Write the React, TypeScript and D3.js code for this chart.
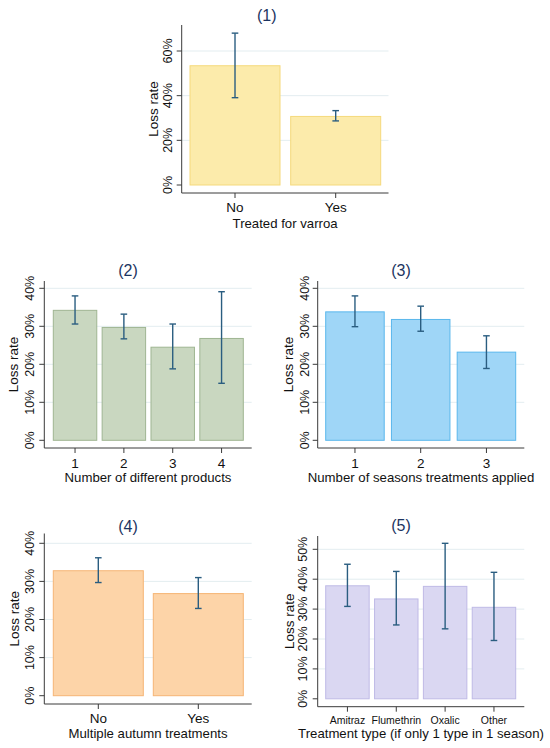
import React from "react";
import * as d3 from "d3";

// (1) Treated for varroa
const varroaCats = ["No", "Yes"];
const varroaLoss = [0.534, 0.307];
const varroaLo = [0.391, 0.287];
const varroaHi = [0.68, 0.333];
const varroaTicks = [0, 0.2, 0.4, 0.6];

// (2) Number of different products
const productCats = ["1", "2", "3", "4"];
const productLoss = [0.342, 0.297, 0.245, 0.268];
const productLo = [0.306, 0.267, 0.188, 0.15];
const productHi = [0.38, 0.332, 0.306, 0.391];
const productTicks = [0, 0.1, 0.2, 0.3, 0.4];

// (3) Number of seasons treatments applied
const seasonCats = ["1", "2", "3"];
const seasonLoss = [0.338, 0.318, 0.232];
const seasonLo = [0.299, 0.287, 0.189];
const seasonHi = [0.38, 0.353, 0.275];
const seasonTicks = [0, 0.1, 0.2, 0.3, 0.4];

// (4) Multiple autumn treatments
const autumnCats = ["No", "Yes"];
const autumnLoss = [0.328, 0.268];
const autumnLo = [0.297, 0.229];
const autumnHi = [0.362, 0.31];
const autumnTicks = [0, 0.1, 0.2, 0.3, 0.4];

// (5) Treatment type
const typeCats = ["Amitraz", "Flumethrin", "Oxalic", "Other"];
const typeLoss = [0.378, 0.334, 0.376, 0.306];
const typeLo = [0.309, 0.247, 0.234, 0.195];
const typeHi = [0.45, 0.426, 0.52, 0.423];
const typeTicks = [0, 0.1, 0.2, 0.3, 0.4, 0.5];

const FONT = "'Liberation Sans', Arial, Helvetica, sans-serif";
const ERR = "#2a5d80";
const AXIS = "#3a3a3a";
const GRID = "#e3edf0";

type PanelProps = {
  title: string;
  xTitle: string;
  cats: string[];
  loss: number[];
  lo: number[];
  hi: number[];
  ticks: number[];
  fill: string;
  stroke: string;
  axisX: number;
  band: [number, number];
  pad: number;
  rightX: number;
  y0: number;
  yTopPx: number;
  axisTop: number;
  xAxisY: number;
  yLabelX: number;
  yTitleX: number;
  titleX: number;
  titleY: number;
  xTickY: number;
  xTitleY: number;
  xTickSize?: number;
};

function Panel(p: PanelProps) {
  const topVal = p.ticks[p.ticks.length - 1];
  const y = d3.scaleLinear().domain([0, topVal]).range([p.y0, p.yTopPx]);
  const x = d3.scaleBand<string>().domain(p.cats).range(p.band).paddingInner(p.pad).paddingOuter(0);
  const fmt = d3.format(".0%");
  const cap = 3.3;
  const midY = (p.axisTop + p.xAxisY) / 2;

  return (
    <g fontFamily={FONT}>
      <text x={p.titleX} y={p.titleY} textAnchor="middle" dominantBaseline="central" fontSize={16} fill="#1c3461">
        {p.title}
      </text>
      {p.ticks.filter(t => t > 0).map(t => (
        <line key={"g" + t} x1={p.axisX} x2={p.rightX} y1={y(t)} y2={y(t)} stroke={GRID} strokeWidth={1} />
      ))}
      {p.cats.map((c, i) => (
        <rect
          key={"b" + c}
          x={x(c)}
          y={y(p.loss[i])}
          width={x.bandwidth()}
          height={y(0) - y(p.loss[i])}
          fill={p.fill}
          stroke={p.stroke}
          strokeWidth={1}
        />
      ))}
      {p.cats.map((c, i) => {
        const cx = (x(c) ?? 0) + x.bandwidth() / 2;
        return (
          <g key={"e" + c} stroke={ERR} strokeWidth={1.4}>
            <line x1={cx} x2={cx} y1={y(p.lo[i])} y2={y(p.hi[i])} />
            <line x1={cx - cap} x2={cx + cap} y1={y(p.lo[i])} y2={y(p.lo[i])} />
            <line x1={cx - cap} x2={cx + cap} y1={y(p.hi[i])} y2={y(p.hi[i])} />
          </g>
        );
      })}
      <line x1={p.axisX} x2={p.axisX} y1={p.axisTop} y2={p.xAxisY} stroke={AXIS} strokeWidth={1} />
      <line x1={p.axisX} x2={p.rightX} y1={p.xAxisY} y2={p.xAxisY} stroke={AXIS} strokeWidth={1} />
      {p.ticks.map(t => (
        <g key={"t" + t}>
          <line x1={p.axisX - 5} x2={p.axisX} y1={y(t)} y2={y(t)} stroke={AXIS} strokeWidth={1} />
          <text
            x={p.yLabelX}
            y={y(t)}
            transform={`rotate(-90 ${p.yLabelX} ${y(t)})`}
            textAnchor="middle"
            dominantBaseline="central"
            fontSize={12.5}
            fill="#111"
          >
            {fmt(t)}
          </text>
        </g>
      ))}
      <text
        x={p.yTitleX}
        y={midY}
        transform={`rotate(-90 ${p.yTitleX} ${midY})`}
        textAnchor="middle"
        dominantBaseline="central"
        fontSize={13.5}
        fill="#111"
      >
        Loss rate
      </text>
      {p.cats.map(c => {
        const cx = (x(c) ?? 0) + x.bandwidth() / 2;
        return (
          <g key={"x" + c}>
            <line x1={cx} x2={cx} y1={p.xAxisY} y2={p.xAxisY + 5} stroke={AXIS} strokeWidth={1} />
            <text x={cx} y={p.xTickY} textAnchor="middle" dominantBaseline="central" fontSize={p.xTickSize ?? 13.5} fill="#111">
              {c}
            </text>
          </g>
        );
      })}
      <text x={(p.axisX + p.rightX) / 2} y={p.xTitleY} textAnchor="middle" dominantBaseline="central" fontSize={13.2} fill="#111">
        {p.xTitle}
      </text>
    </g>
  );
}

export default function App() {
  return (
    <div style={{ position: "absolute", left: 0, top: 0 }}>
      <svg width={550} height={748} style={{ display: "block", background: "#fff" }}>
        <Panel
          title="(1)" xTitle="Treated for varroa"
          cats={varroaCats} loss={varroaLoss} lo={varroaLo} hi={varroaHi} ticks={varroaTicks}
          fill="#fcebab" stroke="#f5d97c"
          axisX={181.7} band={[190, 380.7]} pad={0.106} rightX={388.5}
          y0={185} yTopPx={51} axisTop={25} xAxisY={193}
          yLabelX={167.7} yTitleX={153.3} titleX={266.7} titleY={15}
          xTickY={207.7} xTitleY={223}
        />
        <Panel
          title="(2)" xTitle="Number of different products"
          cats={productCats} loss={productLoss} lo={productLo} hi={productHi} ticks={productTicks}
          fill="#c9d7c0" stroke="#9fb592"
          axisX={44.3} band={[53.3, 243.3]} pad={0.11} rightX={251.7}
          y0={440.3} yTopPx={288.3} axisTop={281} xAxisY={448}
          yLabelX={30} yTitleX={13.5} titleX={128} titleY={270}
          xTickY={463} xTitleY={477.5}
        />
        <Panel
          title="(3)" xTitle="Number of seasons treatments applied"
          cats={seasonCats} loss={seasonLoss} lo={seasonLo} hi={seasonHi} ticks={seasonTicks}
          fill="#9fd6f7" stroke="#5ab7ec"
          axisX={317.7} band={[325.7, 515.7]} pad={0.11} rightX={524.3}
          y0={440.3} yTopPx={288.3} axisTop={281} xAxisY={448}
          yLabelX={305} yTitleX={288.5} titleX={401} titleY={270}
          xTickY={463} xTitleY={477.5}
        />
        <Panel
          title="(4)" xTitle="Multiple autumn treatments"
          cats={autumnCats} loss={autumnLoss} lo={autumnLo} hi={autumnHi} ticks={autumnTicks}
          fill="#fdd4a8" stroke="#f6b575"
          axisX={44.3} band={[53.3, 243.3]} pad={0.1} rightX={251.7}
          y0={695.7} yTopPx={543.3} axisTop={533.5} xAxisY={704}
          yLabelX={30} yTitleX={14} titleX={128} titleY={526}
          xTickY={718.3} xTitleY={733.3}
        />
        <Panel
          title="(5)" xTitle="Treatment type (if only 1 type in 1 season)"
          cats={typeCats} loss={typeLoss} lo={typeLo} hi={typeHi} ticks={typeTicks}
          fill="#dad7f2" stroke="#bfbae6"
          axisX={317.7} band={[325.7, 515.7]} pad={0.11} rightX={524.3}
          y0={698.8} yTopPx={549.3} axisTop={536} xAxisY={706.7}
          yLabelX={303.3} yTitleX={290} titleX={401} titleY={525}
          xTickY={720} xTitleY={733.3} xTickSize={10.5}
        />
      </svg>
    </div>
  );
}
